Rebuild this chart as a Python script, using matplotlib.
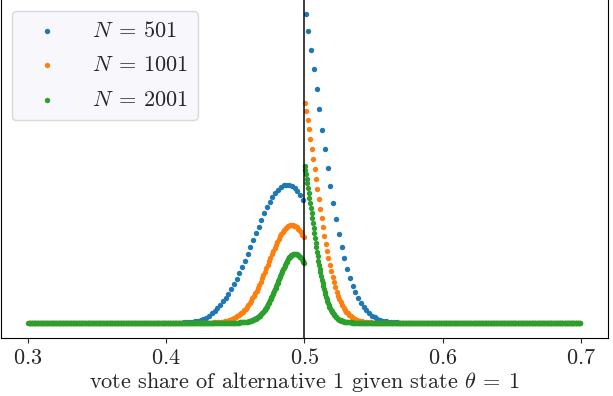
import numpy as np
import matplotlib

matplotlib.use("agg")
import matplotlib.pyplot as plt

plt.rcParams["font.family"] = "serif"
plt.rcParams["font.serif"] = ["cmr10"]
plt.rcParams["mathtext.fontset"] = "cm"
plt.rcParams["axes.formatter.use_mathtext"] = True

# number of voters and the range of k (vote share = k / N) shown
n_voters = [501, 1001, 2001]
k_first = [151, 301, 601]
k_last = [350, 700, 1400]
colors = ["#1f77b4", "#ff7f0e", "#2ca02c"]

# read-off values (arbitrary units), outside these runs the values are 0
blue_start = 199
blue_vals = [
    0.01, 0.02, 0.03, 0.04, 0.06, 0.08, 0.12, 0.18, 0.27, 0.4, 0.6, 0.9, 1.3, 1.9,
    2.7, 3.8, 5.2, 7.0, 9.3, 12.2, 15.2, 18.1, 21.3, 24.9, 29.0, 33.5, 38.4, 43.7,
    49.4, 55.5, 61.9, 68.5, 75.4, 82.3, 89.3, 96.2, 102.9, 109.3, 115.3, 120.8,
    125.6, 129.8, 133.2, 135.7, 137.3, 138.0, 137.7, 136.5, 134.3, 131.3, 127.4,
    122.8,
    308.9, 291.7, 273.1, 253.6, 233.6, 213.3, 193.1, 173.4, 154.4, 136.3, 119.3,
    103.6, 89.2, 76.1, 64.4, 54.1, 45.0, 37.2, 30.4, 24.7, 19.9, 15.8, 12.4, 9.5,
    7.2, 5.3, 3.9, 2.8, 1.9, 1.3, 0.85, 0.55, 0.35, 0.22, 0.14, 0.09, 0.05, 0.03,
]

orange_start = 430
orange_vals = [
    0.05, 0.07, 0.1, 0.13, 0.17, 0.22, 0.28, 0.36, 0.45, 0.57, 0.7, 0.85, 1.05,
    1.3, 1.6, 1.95, 2.4, 2.9, 3.5, 4.2, 5.0, 5.8, 6.7, 7.6, 8.7, 9.9, 11.2, 12.7,
    14.2, 15.9, 17.8, 19.8, 22.0, 24.3, 26.8, 29.4, 32.1, 35.0, 38.0, 41.2, 44.4,
    47.7, 51.1, 54.6, 58.1, 61.5, 65.0, 68.4, 71.8, 75.1, 78.2, 81.2, 84.0, 86.6,
    89.0, 91.1, 93.0, 94.5, 95.8, 96.7, 97.3, 97.6, 97.5, 97.1, 96.4, 95.3, 93.9,
    92.3, 90.3, 88.1, 85.6,
    220.0, 211.7, 202.8, 193.4, 183.7, 173.8, 163.7, 153.6, 143.5, 133.4, 123.6,
    114.0, 104.7, 95.8, 87.2, 79.1, 71.5, 64.3, 57.6, 51.3, 45.6, 40.3, 35.5, 31.1,
    27.2, 23.6, 20.5, 17.6, 15.1, 13.0, 11.0, 9.4, 7.9, 6.6, 5.6, 4.6, 3.8, 3.2,
    2.6, 2.1, 1.8, 1.4, 1.2, 0.9, 0.75, 0.6, 0.45, 0.35, 0.3, 0.2, 0.15, 0.1,
]

green_start = 902
green_vals = [
    0.1, 0.12, 0.15, 0.17, 0.2, 0.24, 0.28, 0.33, 0.38, 0.44, 0.51, 0.59, 0.67,
    0.77, 0.87, 1.0, 1.1, 1.2, 1.4, 1.6, 1.8, 2.0, 2.2, 2.5, 2.7, 3.0, 3.4, 3.7,
    4.1, 4.5, 5.0, 5.5, 6.0, 6.6, 7.2, 7.9, 8.6, 9.3, 10.1, 11.0, 11.9, 12.9, 13.9,
    14.9, 16.0, 17.2, 18.4, 19.7, 21.0, 22.4, 23.8, 25.3, 26.8, 28.4, 30.0, 31.6,
    33.3, 34.9, 36.6, 38.4, 40.1, 41.8, 43.6, 45.3, 47.1, 48.8, 50.4, 52.1, 53.7,
    55.2, 56.8, 58.2, 59.6, 60.9, 62.1, 63.3, 64.3, 65.3, 66.1, 66.9, 67.5, 68.0,
    68.5, 68.8, 68.9, 69.0, 68.9, 68.8, 68.5, 68.0, 67.5, 66.9, 66.1, 65.3, 64.3,
    63.3, 62.1, 60.9, 59.6,
    156.8, 152.8, 148.5, 144.0, 139.4, 134.6, 129.8, 124.8, 119.8, 114.7, 109.6,
    104.6, 99.5, 94.5, 89.6, 84.7, 80.0, 75.3, 70.8, 66.4, 62.1, 58.0, 54.1, 50.3,
    46.6, 43.2, 39.9, 36.8, 33.9, 31.1, 28.5, 26.1, 23.8, 21.6, 19.7, 17.8, 16.1,
    14.6, 13.1, 11.8, 10.6, 9.5, 8.5, 7.6, 6.7, 6.0, 5.3, 4.7, 4.1, 3.6, 3.2, 2.8,
    2.4, 2.1, 1.9, 1.6, 1.4, 1.2, 1.05, 0.9, 0.78, 0.67, 0.57, 0.49, 0.42, 0.36,
    0.3, 0.26, 0.22, 0.18, 0.15, 0.13, 0.1,
]

starts = [blue_start, orange_start, green_start]
values = [blue_vals, orange_vals, green_vals]

fig = plt.figure(figsize=(6.13, 3.96), dpi=100)
ax = fig.add_axes([0.5 / 613, 57.7 / 396, 607.5 / 613, 338.3 / 396])

for N, k0, k1, s0, vals, c in zip(n_voters, k_first, k_last, starts, values, colors):
    k = np.arange(k0, k1 + 1)
    y = np.zeros(len(k))
    y[s0 - k0:s0 - k0 + len(vals)] = vals
    ax.scatter(k / N, y, s=15, color=c, linewidths=0, label=r"$N\:=\:%d$" % N)

ax.axvline(0.5, color="k", alpha=0.75, lw=1.4)

ax.set_xlim(0.2804, 0.7196)
ax.set_ylim(-15.6, 322.7)
ax.set_yticks([])
ax.set_xticks([0.3, 0.4, 0.5, 0.6, 0.7])
ax.tick_params(axis="x", labelsize=16, colors="#262626")
ax.spines["top"].set_visible(False)
ax.set_xlabel(r"vote share of alternative 1 given state $\theta\:=\:1$",
              fontsize=16, color="#262626", labelpad=1.5)

leg = ax.legend(loc="upper left", fontsize=16, scatterpoints=1,
                handlelength=2.3, handletextpad=0.85, labelspacing=0.66,
                borderpad=0.45, facecolor="#f8f8fc", edgecolor="0.85",
                framealpha=1)
for t in leg.get_texts():
    t.set_color("#262626")

plt.savefig("out.png", dpi=100)
